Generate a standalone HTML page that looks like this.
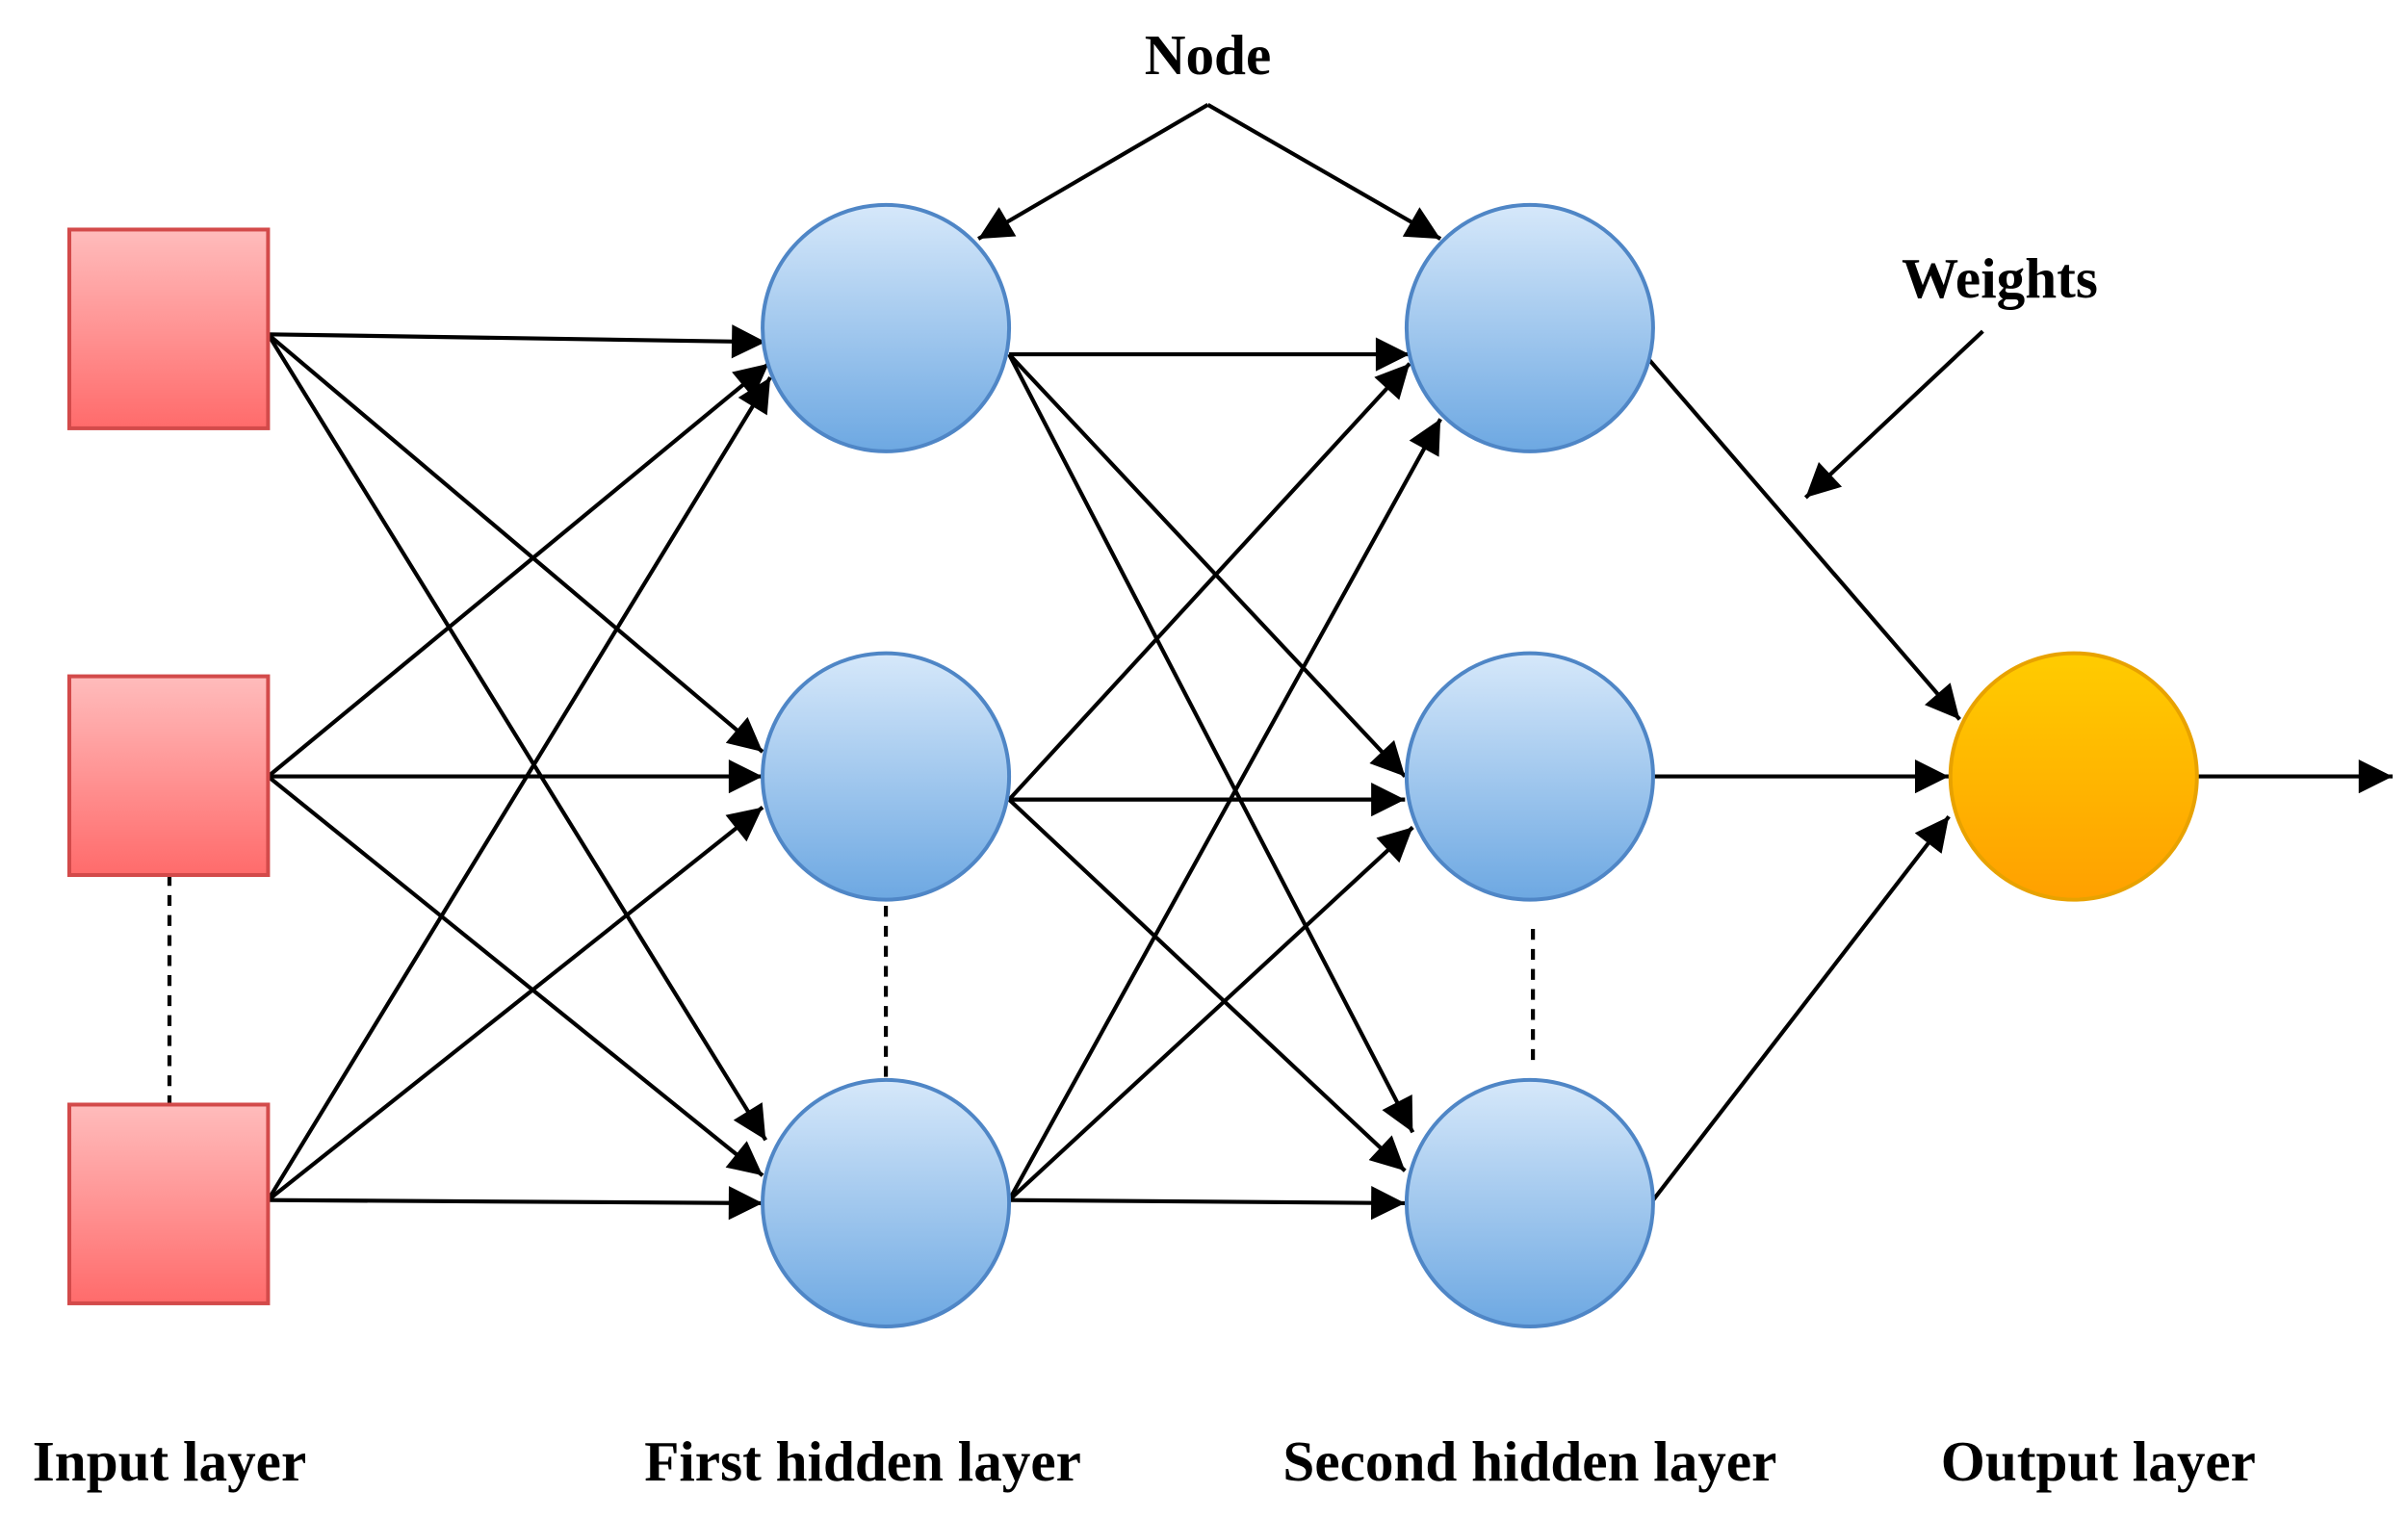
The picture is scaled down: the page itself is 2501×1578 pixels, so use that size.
<!DOCTYPE html>
<html><head><meta charset="utf-8"><style>
html,body{margin:0;padding:0;background:#fff;}
svg{display:block;}
text{font-family:"Liberation Serif",serif;font-weight:bold;fill:#000;}
</style></head><body>
<svg width="2501" height="1578" viewBox="0 0 1563 986" preserveAspectRatio="none" xmlns="http://www.w3.org/2000/svg">
<defs>
<linearGradient id="gr" x1="0" y1="0" x2="0" y2="1"><stop offset="0" stop-color="#ffbcbc"/><stop offset="1" stop-color="#ff6b6b"/></linearGradient>
<linearGradient id="gb" x1="0" y1="0" x2="0" y2="1"><stop offset="0" stop-color="#d6e8fa"/><stop offset="1" stop-color="#6da8e2"/></linearGradient>
<linearGradient id="go" x1="0" y1="0" x2="0" y2="1"><stop offset="0" stop-color="#ffcc00"/><stop offset="1" stop-color="#ffa000"/></linearGradient>
<marker id="b" viewBox="0 0 10 10" refX="10" refY="5" markerWidth="28" markerHeight="22" markerUnits="userSpaceOnUse" orient="auto"><path d="M0,0 L10,5 L0,10 z" fill="#000"/></marker>
</defs>
<g stroke="#000" stroke-width="2.6" fill="none" marker-end="url(#b)">
<line x1="174" y1="217" x2="497" y2="222"/>
<line x1="174" y1="217" x2="495" y2="488"/>
<line x1="174" y1="217" x2="497" y2="740"/>
<line x1="174" y1="504" x2="499" y2="236"/>
<line x1="174" y1="504" x2="495" y2="504"/>
<line x1="174" y1="504" x2="495" y2="763"/>
<line x1="174" y1="779" x2="500" y2="245"/>
<line x1="174" y1="779" x2="495" y2="524"/>
<line x1="174" y1="779" x2="495" y2="781"/>
<line x1="655" y1="230" x2="915" y2="230"/>
<line x1="655" y1="230" x2="912" y2="504"/>
<line x1="655" y1="230" x2="917" y2="735"/>
<line x1="655" y1="519" x2="915" y2="236"/>
<line x1="655" y1="519" x2="912" y2="519"/>
<line x1="655" y1="519" x2="912" y2="760"/>
<line x1="655" y1="779" x2="935" y2="272"/>
<line x1="655" y1="779" x2="917" y2="537"/>
<line x1="655" y1="779" x2="912" y2="781"/>
<line x1="1070" y1="233" x2="1272" y2="467"/>
<line x1="1073" y1="504" x2="1265" y2="504"/>
<line x1="1073" y1="779" x2="1265" y2="530"/>
<line x1="1426" y1="504" x2="1553" y2="504"/>
<line x1="784" y1="68" x2="635" y2="155"/>
<line x1="784" y1="68" x2="935" y2="155"/>
<line x1="1287" y1="215" x2="1172" y2="323"/>
</g>
<g stroke="#000" stroke-width="2.6" stroke-dasharray="7,6">
<line x1="110" y1="568" x2="110" y2="717"/>
<line x1="575" y1="588" x2="575" y2="700"/>
<line x1="995" y1="603" x2="995" y2="692"/>
</g>
<g fill="url(#gr)" stroke="#d34a4a" stroke-width="2.5">
<rect x="45" y="149" width="129" height="129"/>
<rect x="45" y="439" width="129" height="129"/>
<rect x="45" y="717" width="129" height="129"/>
</g>
<g fill="url(#gb)" stroke="#4f86c6" stroke-width="2.5">
<circle cx="575" cy="213" r="80"/><circle cx="575" cy="504" r="80"/><circle cx="575" cy="781" r="80"/>
<circle cx="993" cy="213" r="80"/><circle cx="993" cy="504" r="80"/><circle cx="993" cy="781" r="80"/>
</g>
<circle cx="1346" cy="504" r="80" fill="url(#go)" stroke="#e8a200" stroke-width="2.5"/>
<g font-size="37" text-anchor="middle">
<text x="784" y="48">Node</text>
<text x="1298" y="193">Weights</text>
<text x="110" y="961">Input layer</text>
<text x="560" y="961">First hidden layer</text>
<text x="993" y="961">Second hidden layer</text>
<text x="1362" y="961">Output layer</text>
</g>
</svg>
</body></html>
